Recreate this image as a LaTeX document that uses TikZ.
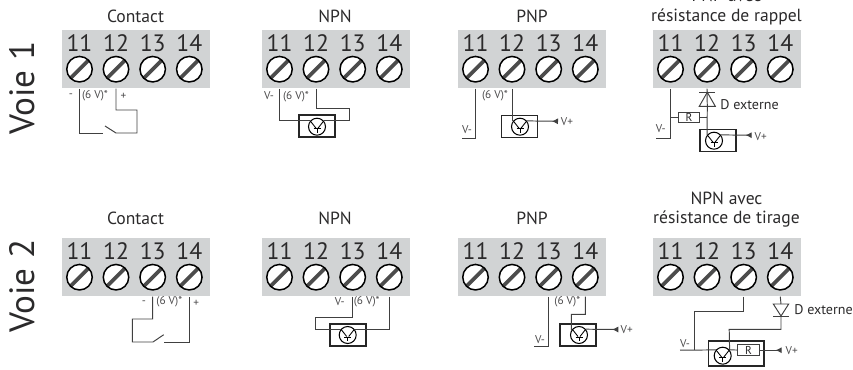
\documentclass[tikz,border=0pt]{standalone}
\usepackage{fontspec}
\setmainfont{PT Sans}
\usetikzlibrary{arrows.meta}
\definecolor{bornier}{HTML}{D1D3D4}
\definecolor{encre}{HTML}{2B2A2B}
\tikzset{
bloc/.style={fill=bornier,anchor=north west,inner sep=0,minimum width=2.96cm,minimum height=1.16cm},
vis/.style={circle,draw=black,line width=.85pt,fill=white,inner sep=0,minimum size=.51cm,
  path picture={\draw[black!70,line width=2.1pt] (path picture bounding box.south west)--(path picture bounding box.north east);}},
numero/.style={text=encre,font=\fontsize{13.5}{15}\selectfont,inner sep=0},
titre/.style={text=encre,font=\fontsize{10}{10.9}\selectfont,inner sep=0,align=center},
voie/.style={text=encre,font=\fontsize{20}{22}\selectfont,inner sep=0,rotate=90},
petit/.style={text=encre!85,font=\fontsize{6.4}{8}\selectfont,inner sep=0},
moyen/.style={text=encre,font=\fontsize{8}{10}\selectfont,inner sep=0},
fil/.style={draw=black!75,line width=.55pt},
boitier/.style={draw=black!85,line width=.9pt,inner sep=0,minimum width=.72cm,minimum height=.44cm},
resist/.style={draw=black!75,line width=.6pt,fill=white,inner sep=0,minimum width=.43cm,minimum height=.21cm,text=encre,font=\fontsize{6.5}{8}\selectfont},
trans/.style={circle,draw=black,line width=.6pt,inner sep=0,minimum size=.34cm,
  path picture={\draw[black,line width=.5pt] ([shift={(-6.5,-5.5)}]path picture bounding box.center)--([shift={(-1,1.5)}]path picture bounding box.center);
  \draw[black,line width=.5pt] ([shift={(6.5,-5.5)}]path picture bounding box.center)--([shift={(1,1.5)}]path picture bounding box.center);
  \draw[black,line width=.5pt] ([shift={(-3.5,2)}]path picture bounding box.center)--([shift={(3.5,2)}]path picture bounding box.center);
  \draw[black,line width=.5pt] ([shift={(0,2)}]path picture bounding box.center)--([shift={(0,6)}]path picture bounding box.center);}},
fleche/.style={-{Latex[reversed,length=3.5pt,width=3.5pt]}}
}
\begin{document}
\begin{tikzpicture}[x=0.02cm,y=-0.02cm]
\useasboundingbox (0,0) rectangle (853,369);
\node[voie] (v1) at (22,88) {Voie 1};
\node[voie] (v2) at (22,286) {Voie 2};
\foreach \b/\x/\y in {1/62/30,2/262/30,3/458/30,4/653/30,5/62/238,6/262/238,7/458/238,8/653/238}
{
\node[bloc] (b\b) at (\x,\y) {};
\foreach \n/\d in {11/17.5,12/54,13/90.7,14/127.3}
{
\node[vis] (b\b-\n) at (\x+\d,\y+39.2) {};
\node[numero] (n\b-\n) at (\x+\d,\y+13.5) {\n};
}
}
\node[titre] (t1) at (135.5,16) {Contact};
\node[titre] (t2) at (335,16) {NPN};
\node[titre] (t3) at (532,16) {PNP};
\node[titre] (t4) at (726.5,7) {PNP avec\\résistance de rappel};
\node[titre] (t5) at (135.5,218) {Contact};
\node[titre] (t6) at (335,218) {NPN};
\node[titre] (t7) at (532,218) {PNP};
\node[titre] (t8) at (726.5,210) {NPN avec\\résistance de tirage};
\coordinate (s1a) at (103,133);
\coordinate (s1b) at (116,133);
\coordinate (s1c) at (105,126);
\draw[fil] (b1-11 |- b1.south) |- (s1a);
\draw[fil] (s1c) -- (s1b) -| (137,110) -| (b1-12 |- b1.south);
\node[petit] (l1) at (71,96) {-};
\node[petit] (l2) at (95,96) {(6 V)*};
\node[petit] (l3) at (123.5,96) {+};
\node[boitier] (k2) at (317,126) {};
\node[trans] (q2) at (317,126.7) {};
\draw[fil] (b2-11 |- b2.south) |- (q2.140);
\draw[fil] (b2-12 |- b2.south) |- (349.7,108) |- (q2.40);
\node[petit] (l4) at (269,96) {V-};
\node[petit] (l5) at (296,96.5) {(6 V)*};
\coordinate (m3) at (462,138);
\coordinate (p3) at (558,121.3);
\node[boitier] (k3) at (519.7,126.3) {};
\node[trans] (q3) at (520,126.7) {};
\draw[fil] (b3-11 |- b3.south) |- (m3);
\draw[fil] (b3-12 |- b3.south) -- (b3-12 |- q3.140) -- (q3.140);
\draw[fil,fleche] (q3.40) -- (p3);
\node[petit] (l6) at (467,130) {V-};
\node[petit] (l7) at (495,96) {(6 V)*};
\node[petit] (l8) at (567,122) {V+};
\coordinate (m4) at (656,138);
\coordinate (p4) at (751.7,135.2);
\node[boitier] (k4) at (717.8,140.5) {};
\node[trans] (q4) at (714,140.7) {};
\node[resist] (r4) at (689,117.7) {R};
\draw[fil] (b4-11 |- b4.south) |- (m4);
\draw[fil] (b4-11 |- r4) -- (r4);
\draw[fil] (r4) -- (707.3,117.7);
\draw[fil] (b4-12 |- b4.south) -- (707.3,106.3);
\draw[fil] (707.3,106.3) -- (q4.140);
\draw[fil] (699.3,106.3) -- (715.3,106.3) -- (707.3,92.3) -- cycle;
\draw[fil] (699.3,92.3) -- (715.3,92.3);
\draw[fil,fleche] (q4.40) -- (p4);
\node[petit] (l9) at (660.7,129) {V-};
\node[moyen,anchor=west] (l10) at (720,104.5) {D externe};
\node[petit] (l11) at (760.7,137) {V+};
\coordinate (s5a) at (153,342);
\coordinate (s5b) at (163.7,334.7);
\coordinate (s5c) at (164.3,342);
\draw[fil] (b5-13 |- b5.south) |- (132.3,319) |- (s5a) -- (s5b);
\draw[fil] (s5c) -| (b5-14 |- b5.south);
\node[petit] (l12) at (144,303) {-};
\node[petit] (l13) at (169.3,302) {(6 V)*};
\node[petit] (l14) at (196.3,303) {+};
\node[boitier] (k6) at (347.8,335) {};
\node[trans] (q6) at (347.7,335) {};
\draw[fil] (b6-13 |- b6.south) |- (315.7,317) |- (q6.140);
\draw[fil] (b6-14 |- b6.south) |- (q6.40);
\node[petit] (l15) at (339.7,302) {V-};
\node[petit] (l16) at (366.7,301.5) {(6 V)*};
\coordinate (m7) at (534,346);
\coordinate (p7) at (618.3,329.5);
\node[boitier] (k7) at (578.2,335) {};
\node[trans] (q7) at (579,335) {};
\draw[fil] (b7-13 |- b7.south) |- (m7);
\draw[fil] (b7-14 |- b7.south) |- (571.3,314.3) -- (571.3,329.5) -- (q7.140);
\draw[fil,fleche] (q7.40) -- (p7);
\node[petit] (l17) at (540,340) {V-};
\node[petit] (l18) at (567.3,301.7) {(6 V)*};
\node[petit] (l19) at (626.7,330) {V+};
\coordinate (m8) at (680,350.2);
\coordinate (p8) at (781.7,350.2);
\node[boitier,minimum width=1.11cm,minimum height=.5cm] (k8) at (736.2,353.7) {};
\node[trans] (q8) at (722.7,355.7) {};
\node[resist] (r8) at (748.5,350.2) {R};
\draw[fil] (b8-13 |- b8.south) |- (694,311) -- (694,350.2);
\draw[fil] (m8) -- (q8.140);
\draw[fil] (q8.40) -- (r8);
\draw[fil,fleche] (r8) -- (p8);
\draw[fil] (b8-14 |- b8.south) -- (781,304);
\draw[fil] (773.3,304) -- (788.7,304) -- (781,316) -- cycle;
\draw[fil] (773.3,316) -- (788.7,316);
\draw[fil] (781,316) |- (729.2,329.3) -- (q8.40);
\node[petit] (l20) at (685,344) {V-};
\node[moyen,anchor=west] (l21) at (794,309.3) {D externe};
\node[petit] (l22) at (791.7,350.2) {V+};
\end{tikzpicture}
\end{document}
